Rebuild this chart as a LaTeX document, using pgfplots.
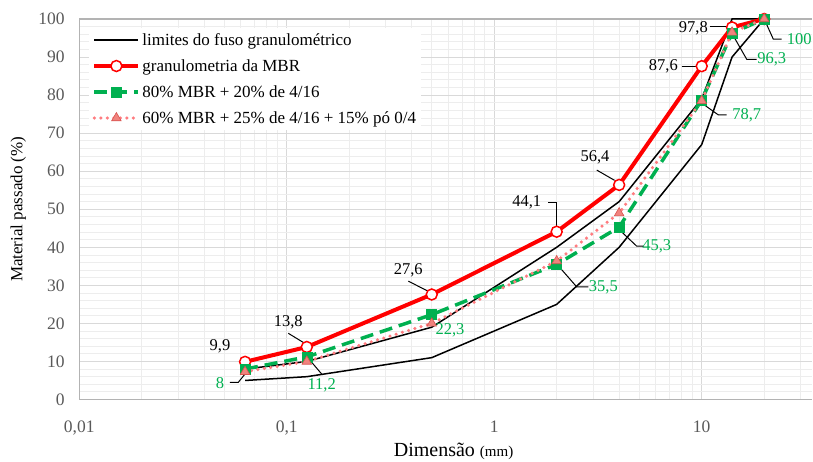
\documentclass[border=0pt]{standalone}
\usepackage{pgfplots}
\pgfplotsset{compat=1.18}
\usepackage{fontspec}
\setmainfont{Liberation Serif}
\definecolor{cred}{HTML}{FF0000}
\definecolor{cgreen}{HTML}{00B050}
\definecolor{cpink}{HTML}{FF7C80}
\definecolor{cpinkfill}{HTML}{F0837E}
\definecolor{cpinkedge}{HTML}{D9534F}
\definecolor{gridmaj}{HTML}{D9D9D9}
\definecolor{gridmin}{HTML}{EDEDED}
\definecolor{axisgray}{HTML}{B3B3B3}
\definecolor{tickgray}{HTML}{595959}
\begin{document}
\begin{tikzpicture}[
  lab/.style={font=\fontsize{16.5}{19}\selectfont, inner sep=0pt},
  lead/.style={draw=black, line width=1pt}]
\path[use as bounding box] (-79.2pt,-61.5pt) rectangle (733.8pt,399.5pt);
\begin{axis}[
  scale only axis, width=732.8pt, height=380.5pt,
  at={(0pt,0pt)}, anchor=south west,
  xmode=log, xmin=0.01, xmax=34, ymin=0, ymax=100,
  clip=false,
  xtick={0.01,0.1,1,10}, xticklabels={{0,01},{0,1},1,10},
  minor xtick={0.02,0.03,0.04,0.05,0.06,0.07,0.08,0.09,0.2,0.3,0.4,0.5,0.6,0.7,0.8,0.9,2,3,4,5,6,7,8,9,20,30},
  ytick={0,10,...,100}, minor ytick={2,4,...,98},
  grid=both,
  major grid style={draw=gridmaj, line width=0.8pt},
  minor grid style={draw=gridmin, line width=0.8pt},
  separate axis lines,
  axis x line*=box, axis y line*=left,
  axis line style={draw=axisgray, line width=1.3pt},
  major tick length=0pt, minor tick length=0pt,
  /pgf/number format/assume math mode=true,
  ticklabel style={font=\fontsize{17.5}{20}\selectfont, text=tickgray},
  yticklabel style={xshift=-11pt},
  xticklabel style={yshift=-18pt},
  xlabel={Dimensão {\fontsize{15}{18}\selectfont (mm)}},
  xlabel style={font=\fontsize{20}{24}\selectfont, at={(axis description cs:0.5,0)}, anchor=base, yshift=-57pt, xshift=8pt},
  ylabel={Material passado (\%)},
  ylabel style={font=\fontsize{17}{20}\selectfont, at={(axis description cs:0,0.5)}, anchor=center, yshift=61pt},
  legend style={at={(axis description cs:0,1)}, anchor=north west, xshift=10pt, yshift=-9pt,
    draw=none, fill=white, font=\fontsize{17}{20}\selectfont, row sep=8.7pt,
    cells={anchor=west}, inner sep=3pt},
  legend image code/.code={\draw[mark repeat=2,mark phase=2,#1] plot coordinates {(0pt,0pt) (22pt,0pt) (44pt,0pt)};},
]
% limits of the grading envelope
\addplot[black, line width=1.5pt, mark=none] coordinates {
  (0.063,8) (0.125,10) (0.5,19) (2,40) (4,52) (10,79) (14,100) (20,100)};
\addlegendentry{limites do fuso granulométrico}
\addplot[black, line width=1.5pt, mark=none, forget plot] coordinates {
  (0.063,5) (0.125,6) (0.5,11) (2,25) (4,40) (10,67) (14,90) (20,100)};
% MBR
\addplot[cred, line width=4pt, mark=*, mark size=5.5pt,
  mark options={fill=white, draw=cred, line width=1.5pt, solid}] coordinates {
  (0.063,9.9) (0.125,13.8) (0.5,27.6) (2,44.1) (4,56.4) (10,87.6) (14,97.8) (20,100)};
\addlegendentry{granulometria da MBR}
% 80% MBR
\addplot[cgreen, line width=3.5pt, dash pattern=on 13pt off 7pt, mark=square*, mark size=5pt,
  mark options={fill=cgreen, draw=cgreen, line width=0.5pt, solid}] coordinates {
  (0.063,8) (0.125,11.2) (0.5,22.3) (2,35.5) (4,45.3) (10,78.7) (14,96.3) (20,100)};
\addlegendentry{80\% MBR + 20\% de 4/16}
% 60% MBR
\addplot[cpink, line width=3.5pt, line cap=round, dash pattern=on 0pt off 6.5pt, mark=triangle*, mark size=5.5pt,
  mark options={fill=cpinkfill, draw=cpinkedge, line width=0.6pt, solid}] coordinates {
  (0.063,7.3) (0.125,10) (0.5,20) (2,36.4) (4,49) (10,78.5) (14,96.5) (20,100)};
\addlegendentry{60\% MBR + 25\% de 4/16 + 15\% pó 0/4}
% labels, MBR series
\node[lab] at (axis cs:0.0477,13.9) {9,9};
\node[lab] at (axis cs:0.1018,20.4) {13,8};
\draw[lead] (axis cs:0.1018,17.4) -- (axis cs:0.121,14.9);
\node[lab] at (axis cs:0.3855,33.9) {27,6};
\draw[lead] (axis cs:0.3855,31.1) -- (axis cs:0.475,28.6);
\node[lab] at (axis cs:1.434,51.7) {44,1};
\draw[lead] (axis cs:1.823,51.7) -- (axis cs:2,51.7) -- (axis cs:2,45.6);
\node[lab] at (axis cs:3.06,63.7) {56,4};
\draw[lead] (axis cs:3.12,60.3) -- (axis cs:3.8,57.6);
\node[lab] at (axis cs:6.53,87.5) {87,6};
\draw[lead] (axis cs:8.01,87.6) -- (axis cs:9.4,87.6);
\node[lab] at (axis cs:9.11,97.6) {97,8};
\draw[lead] (axis cs:10.96,98) -- (axis cs:13.2,98);
% labels, 80% series
\node[lab, text=cgreen] at (axis cs:0.0477,4.26) {8};
\draw[lead] (axis cs:0.0533,4.5) -- (axis cs:0.0584,4.5) -- (axis cs:0.063,6.7);
\node[lab, text=cgreen] at (axis cs:0.1474,3.8) {11,2};
\draw[lead] (axis cs:0.1474,6.7) -- (axis cs:0.13,10.2);
\node[lab, text=cgreen] at (axis cs:0.612,18.3) {22,3};
\node[lab, text=cgreen] at (axis cs:3.357,29.6) {35,5};
\draw[lead] (axis cs:2.841,29.6) -- (axis cs:2.498,29.6) -- (axis cs:2.1,34.3);
\node[lab, text=cgreen] at (axis cs:6.07,40.3) {45,3};
\draw[lead] (axis cs:5.23,40.3) -- (axis cs:4.86,40.3) -- (axis cs:4.12,44.0);
\node[lab, text=cgreen] at (axis cs:16.48,74.8) {78,7};
\draw[lead] (axis cs:13.2,74.8) -- (axis cs:12.02,74.8) -- (axis cs:10.3,77.4);
\node[lab, text=cgreen] at (axis cs:21.75,89.4) {96,3};
\draw[lead] (axis cs:18.41,89.4) -- (axis cs:16.48,89.4) -- (axis cs:14.4,95.0);
\node[lab, text=cgreen] at (axis cs:29.54,94.7) {100};
\draw[lead] (axis cs:24.3,94.7) -- (axis cs:22.13,94.7) -- (axis cs:20.5,98.7);
\end{axis}
\end{tikzpicture}
\end{document}
